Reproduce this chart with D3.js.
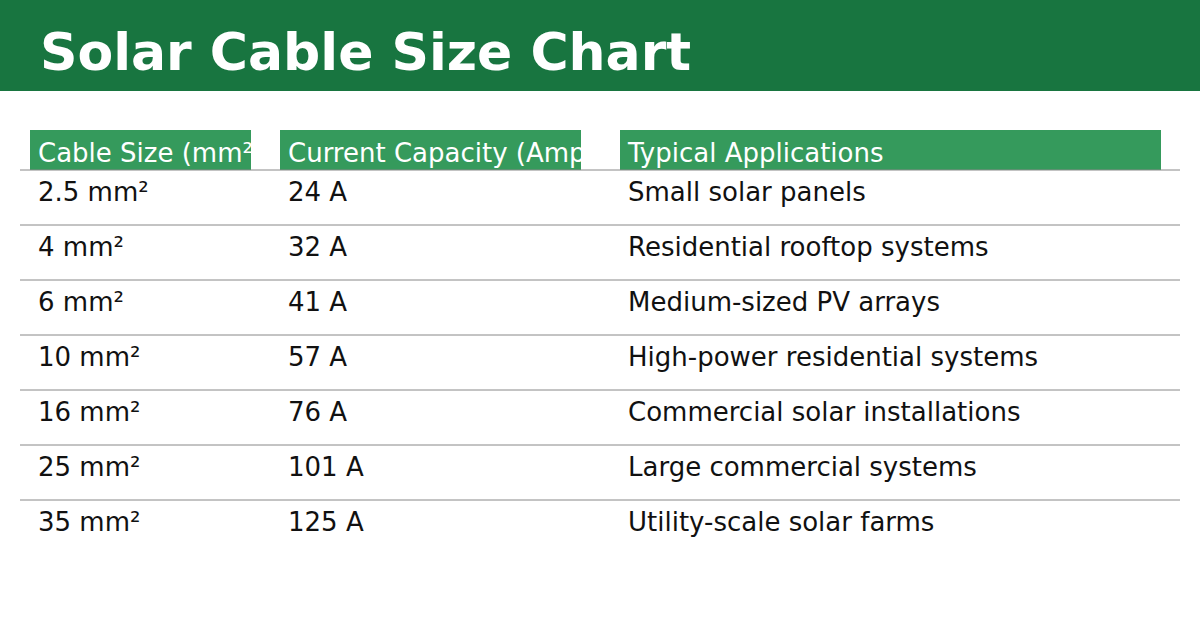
<!DOCTYPE html>
<html><head><meta charset="utf-8">
<script src="https://cdn.jsdelivr.net/npm/d3@7"></script>
<style>body{margin:0;background:#fff}</style></head>
<body><svg id="c" width="1200" height="630"></svg>
<script>
const title = "Solar Cable Size Chart";
const headers = ["Cable Size (mm²)", "Current Capacity (Amps)", "Typical Applications"];
const sizes = ["2.5 mm²","4 mm²","6 mm²","10 mm²","16 mm²","25 mm²","35 mm²"];
const amps = [24,32,41,57,76,101,125];
const apps = ["Small solar panels","Residential rooftop systems","Medium-sized PV arrays","High-power residential systems","Commercial solar installations","Large commercial systems","Utility-scale solar farms"];

const svg = d3.select("#c");
const font = "DejaVu Sans, sans-serif";
svg.append("rect").attr("width",1200).attr("height",91).attr("fill","#187540");
svg.append("text").attr("x",40).attr("y",70).attr("fill","#fff").attr("font-family",font)
  .attr("font-weight","bold").attr("font-size",52).text(title);

const cols = [{x:30,w:221},{x:280,w:301},{x:620,w:541}];
const defs = svg.append("defs");
cols.forEach((c,i)=>{
  defs.append("clipPath").attr("id","cl"+i).append("rect").attr("x",c.x).attr("y",130).attr("width",c.w).attr("height",40);
  svg.append("rect").attr("x",c.x).attr("y",130).attr("width",c.w).attr("height",40).attr("fill","#359a5c");
  svg.append("text").attr("clip-path",`url(#cl${i})`).attr("x",c.x+8).attr("y",162)
    .attr("fill","#fff").attr("font-family",font).attr("font-size",26).text(headers[i]);
});
const y = d3.scaleBand().domain(d3.range(sizes.length)).range([170,555]);
const rows = sizes.map((s,i)=>[s, amps[i]+" A", apps[i]]);
rows.forEach((r,i)=>{
  svg.append("line").attr("x1",20).attr("x2",1180).attr("y1",y(i)).attr("y2",y(i)).attr("stroke","#888").attr("stroke-width",1);
  r.forEach((t,j)=>svg.append("text").attr("x",cols[j].x+8).attr("y",y(i)+31)
    .attr("font-family",font).attr("font-size",26).attr("fill","#111").text(t));
});
</script></body></html>
